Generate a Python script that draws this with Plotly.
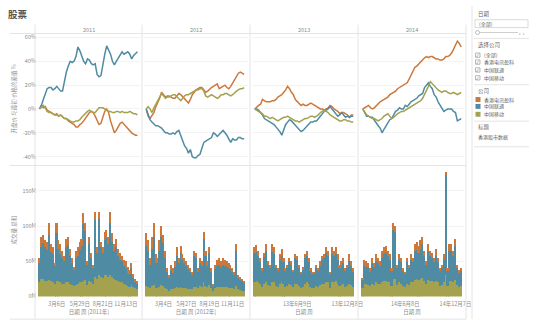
import plotly.graph_objects as go
import pandas as pd

years = ["2011", "2012", "2013", "2014"]
companies = ["香港电讯盈科", "中国联通", "中国移动"]
colors = {"香港电讯盈科": "#cd783b", "中国联通": "#4f8ba2", "中国移动": "#a4a14f"}
week_starts = {"2011": "2011-01-02", "2012": "2012-01-01", "2013": "2013-01-06", "2014": "2014-01-05"}

# % difference of opening price vs first value of the year (weekly)
pct = {
    "香港电讯盈科": {
        "2011": [0, 3, 1, 2, -1, -2, -3, -4, -5, -4, -6, -5, -7, -8, -8, -10, -11, -12, -13, -15,
                 -15, -13, -12, -10, -8, -5, -3, -2, -3, -6, -10, -13, -12, -6, -2, 0, -3, -10, -16, -20,
                 -18, -15, -12, -11, -13, -15, -17, -18, -20, -21, -22, -22],
        "2012": [0, -6, -8, -5, -3, 2, 5, 9, 14, 12, 10, 11, 11, 10, 9, 9, 11, 13, 12, 10,
                 8, 6, 5, 8, 12, 14, 16, 17, 18, 18, 16, 14, 15, 17, 18, 19, 20, 21, 17, 18,
                 19, 20, 18, 17, 19, 22, 25, 28, 30, 31, 30, 29],
        "2013": [0, 2, 3, 4, 8, 7, 6, 6, 6, 7, 7, 8, 10, 11, 12, 14, 16, 19, 17, 14,
                 12, 8, 6, 4, 3, 4, 3, 3, 4, 5, 4, 3, 2, 1, 0, 0, -1, 0, 1, 3,
                 2, 0, -1, -2, -4, -3, -3, -4, -5, -7, -5, -5],
        "2014": [0, 1, 2, 3, 1, 0, 1, 3, 4, 6, 7, 8, 9, 10, 12, 13, 14, 15, 17, 18,
                 19, 20, 21, 22, 25, 28, 32, 35, 36, 38, 40, 42, 43, 44, 43, 44, 44, 43, 42, 42,
                 41, 41, 42, 44, 44, 45, 47, 50, 53, 57, 55, 52],
    },
    "中国联通": {
        "2011": [0, 3, 8, 13, 17, 18, 18, 16, 17, 19, 17, 15, 15, 24, 31, 36, 40, 39, 40, 44,
                 52, 49, 45, 40, 38, 42, 41, 38, 37, 38, 29, 27, 28, 38, 46, 53, 50, 46, 40, 37,
                 40, 43, 45, 48, 46, 47, 48, 46, 42, 45, 47, 48],
        "2012": [0, -5, -9, -11, -13, -14, -14, -15, -16, -18, -20, -20, -21, -21, -20, -21, -19, -18, -23, -26,
                 -31, -33, -37, -34, -40, -41, -41, -39, -38, -33, -28, -27, -26, -25, -24, -20, -21, -23, -21, -20,
                 -18, -20, -22, -25, -28, -25, -26, -26, -24, -24, -25, -25],
        "2013": [0, 0, -1, -3, -5, -8, -9, -10, -11, -12, -13, -15, -17, -19, -22, -17, -13, -11, -9, -10,
                 -12, -14, -16, -18, -19, -18, -16, -15, -13, -11, -11, -10, -10, -8, -6, -4, -2, -1, 0, 2,
                 0, -2, -4, -6, -5, -3, -5, -7, -6, -7, -6, -6],
        "2014": [0, -3, -6, -6, -7, -7, -9, -12, -14, -16, -20, -17, -14, -12, -9, -8, -5, -2, -1, 1,
                 0, 0, 3, 2, 4, 6, 7, 8, 9, 11, 12, 13, 18, 20, 22, 19, 17, 12, 10, 6,
                 3, 0, -2, -1, 0, 0, 0, -2, -3, -10, -9, -8],
    },
    "中国移动": {
        "2011": [0, 2, 3, 1, -2, -3, -3, -4, -5, -5, -6, -5, -7, -8, -8, -9, -10, -11, -11, -10,
                 -10, -9, -7, -5, -4, -2, -1, -2, -3, -3, -1, 1, 1, 1, 0, -1, -2, -2, -3, -3,
                 -2, -2, -3, -2, -3, -3, -3, -2, -3, -4, -4, -5],
        "2012": [0, 2, 0, -3, 1, 4, 6, 10, 13, 11, 9, 10, 10, 11, 12, 12, 10, 8, 7, 9,
                 11, 12, 12, 13, 14, 15, 16, 16, 17, 17, 15, 11, 10, 11, 12, 11, 10, 9, 10, 12,
                 12, 13, 13, 12, 11, 12, 14, 15, 16, 17, 17, 18],
        "2013": [0, -1, -2, -3, -4, -6, -6, -7, -8, -7, -8, -9, -10, -9, -8, -7, -7, -6, -7, -8,
                 -9, -10, -10, -11, -10, -9, -8, -8, -7, -6, -6, -7, -6, -5, -3, -2, -1, -2, -3, -5,
                 -6, -7, -8, -9, -10, -10, -9, -9, -10, -10, -11, -11],
        "2014": [0, -2, -5, -6, -7, -8, -8, -9, -10, -9, -8, -6, -5, -4, -6, -8, -7, -5, -4, -3,
                 -2, -2, -1, 0, 1, 2, 3, 4, 5, 6, 7, 9, 12, 15, 19, 23, 21, 19, 17, 16,
                 15, 14, 15, 15, 14, 13, 13, 14, 13, 12, 13, 14],
    },
}

# weekly volume (millions)
vol = {
    "中国移动": {
        "2011": [20, 25, 25, 22, 22, 24, 22, 20, 18, 22, 22, 20, 18, 18, 20, 20, 18, 17, 15, 17,
                 18, 20, 20, 22, 24, 16, 22, 20, 18, 28, 25, 30, 28, 26, 30, 30, 28, 30, 28, 25,
                 24, 22, 20, 20, 18, 17, 15, 14, 16, 14, 12, 10],
        "2012": [15, 14, 12, 15, 16, 12, 12, 14, 16, 15, 12, 10, 8, 10, 10, 12, 14, 12, 14, 12,
                 12, 12, 10, 10, 10, 14, 14, 12, 15, 14, 20, 15, 14, 16, 12, 8, 12, 13, 14, 13,
                 14, 13, 13, 12, 12, 12, 10, 15, 10, 9, 8, 8],
        "2013": [20, 22, 20, 18, 14, 18, 20, 16, 15, 20, 20, 15, 14, 18, 20, 18, 14, 15, 18, 16,
                 13, 18, 18, 15, 12, 14, 18, 20, 18, 14, 12, 12, 15, 14, 16, 18, 18, 20, 20, 12,
                 20, 20, 22, 18, 15, 16, 18, 14, 15, 18, 16, 14],
        "2014": [12, 18, 18, 17, 15, 18, 17, 20, 18, 18, 20, 22, 22, 20, 20, 15, 25, 25, 16, 20,
                 18, 15, 14, 18, 16, 20, 20, 24, 25, 24, 25, 26, 22, 18, 24, 22, 22, 20, 22, 20,
                 15, 16, 20, 30, 15, 22, 22, 20, 24, 16, 14, 15],
    },
    "中国联通": {
        "2011": [27, 45, 51, 48, 44, 63, 41, 40, 25, 68, 46, 40, 37, 32, 50, 53, 40, 30, 23, 38,
                 40, 46, 52, 81, 69, 29, 53, 34, 23, 80, 37, 80, 42, 36, 50, 53, 47, 75, 50, 40,
                 46, 36, 32, 30, 26, 23, 19, 18, 24, 12, 9, 8],
        "2012": [57, 51, 33, 52, 69, 36, 35, 51, 69, 61, 43, 25, 18, 27, 24, 30, 44, 35, 48, 40,
                 35, 32, 29, 25, 21, 43, 40, 23, 32, 30, 62, 42, 30, 46, 23, 8, 27, 31, 31, 29,
                 31, 31, 29, 28, 27, 23, 21, 50, 16, 15, 14, 11],
        "2013": [42, 41, 37, 31, 22, 38, 45, 29, 25, 43, 40, 25, 22, 34, 38, 31, 22, 25, 31, 29,
                 22, 36, 34, 25, 20, 24, 36, 37, 31, 22, 20, 20, 25, 22, 28, 34, 36, 42, 37, 20,
                 40, 37, 38, 34, 25, 28, 29, 22, 25, 32, 28, 21],
        "2014": [11, 26, 24, 25, 20, 29, 25, 30, 29, 26, 35, 38, 40, 37, 32, 21, 70, 67, 24, 32,
                 31, 21, 18, 31, 24, 32, 29, 41, 41, 38, 43, 49, 35, 27, 41, 35, 32, 29, 36, 29,
                 21, 24, 32, 142, 21, 43, 43, 37, 48, 24, 20, 21],
    },
    "香港电讯盈科": {
        "2011": [8, 15, 12, 10, 12, 18, 12, 10, 5, 15, 12, 15, 10, 8, 12, 12, 10, 8, 4, 10,
                 12, 12, 10, 15, 12, 5, 10, 8, 4, 12, 8, 10, 8, 8, 12, 12, 10, 15, 12, 10,
                 12, 10, 10, 8, 8, 10, 8, 6, 8, 6, 4, 4],
        "2012": [18, 15, 10, 18, 20, 12, 8, 15, 15, 12, 10, 5, 4, 8, 6, 8, 12, 8, 10, 8,
                 8, 6, 6, 5, 4, 8, 8, 5, 8, 6, 10, 8, 6, 8, 5, 2, 6, 8, 10, 8,
                 10, 8, 8, 8, 6, 5, 4, 10, 4, 4, 3, 3],
        "2013": [8, 10, 8, 6, 4, 6, 10, 5, 5, 12, 10, 5, 4, 8, 10, 6, 4, 5, 6, 5,
                 3, 6, 6, 5, 3, 4, 6, 8, 6, 4, 3, 3, 5, 4, 6, 6, 6, 8, 8, 3,
                 10, 8, 10, 8, 5, 6, 8, 4, 5, 10, 6, 5],
        "2014": [3, 8, 8, 6, 5, 8, 6, 10, 8, 6, 10, 10, 10, 8, 8, 4, 10, 8, 5, 8,
                 6, 4, 3, 6, 5, 8, 6, 10, 12, 10, 12, 10, 8, 5, 10, 8, 8, 6, 10, 6,
                 4, 5, 8, 5, 4, 10, 10, 8, 10, 5, 4, 4],
    },
}

x_ranges = {
    "2011": ["2010-12-24", "2012-01-07"],
    "2012": ["2011-12-24", "2013-01-06"],
    "2013": ["2012-12-27", "2014-01-08"],
    "2014": ["2013-12-26", "2015-01-07"],
}
tick_vals = {
    "2011": ["2011-03-06", "2011-05-29", "2011-08-21", "2011-11-13"],
    "2012": ["2012-03-04", "2012-05-27", "2012-08-19", "2012-11-11"],
    "2013": ["2013-06-09", "2013-12-08"],
    "2014": ["2014-06-08", "2014-12-07"],
}
tick_text = {
    "2011": ["3月6日", "5月29日", "8月21日", "11月13日"],
    "2012": ["3月4日", "5月27日", "8月19日", "11月11日"],
    "2013": ["13年6月9日", "13年12月8日"],
    "2014": ["14年6月8日", "14年12月7日"],
}
x_titles = {"2011": "日期 周 [2011年]", "2012": "日期 周 [2012年]", "2013": "日期 周", "2014": "日期 周"}
pct_ticks = [-40, -20, 0, 20, 40, 60]
pct_tick_text = ["-40%", "-20%", "0%", "20%", "40%", "60%"]
vol_ticks = [0, 50, 100, 150]
vol_tick_text = ["0M", "50M", "100M", "150M"]

W, H = 534, 334
FONT = "Noto Sans CJK SC, Noto Sans, sans-serif"
GRAY = "#8c8c8c"
LINE = "#e4e4e4"


def px(x):
    return x / W


def py(y):
    return 1 - y / H


fig = go.Figure()
layout = {}
col_left = [35, 142, 250, 358]
col_w = 108
stack_order = ["中国移动", "中国联通", "香港电讯盈科"]

for i, yr in enumerate(years):
    dates = pd.date_range(week_starts[yr], periods=52, freq="7D")
    top, bot = i + 1, i + 5
    for c in companies:
        fig.add_trace(go.Scatter(
            x=dates, y=pct[c][yr], mode="lines", name=c, showlegend=False,
            line=dict(color=colors[c], width=1.5), xaxis=f"x{top}", yaxis=f"y{top}"))
    for c in stack_order:
        fig.add_trace(go.Bar(
            x=dates, y=vol[c][yr], name=c, showlegend=False, marker_color=colors[c],
            marker_line_width=0, xaxis=f"x{bot}", yaxis=f"y{bot}"))
    dom = [px(col_left[i] + 2), px(col_left[i] + col_w - 2)]
    layout[f"xaxis{top}"] = dict(domain=dom, range=x_ranges[yr], type="date", showticklabels=False,
                                 showgrid=False, zeroline=False, anchor=f"y{top}")
    layout[f"xaxis{bot}"] = dict(domain=dom, range=x_ranges[yr], type="date", showgrid=False,
                                 tickvals=tick_vals[yr], ticktext=tick_text[yr], ticks="",
                                 tickangle=0, automargin=False, ticklabelstandoff=3,
                                 tickfont=dict(size=5.5, color=GRAY, family=FONT),
                                 title=dict(text=x_titles[yr], font=dict(size=5.5, color=GRAY, family=FONT), standoff=3),
                                 zeroline=False, anchor=f"y{bot}")
    layout[f"yaxis{top}"] = dict(domain=[py(167), py(34)], range=[-47.4, 62.5], tickvals=pct_ticks,
                                 ticktext=pct_tick_text, showticklabels=(i == 0), ticks="",
                                 tickfont=dict(size=5.5, color=GRAY, family=FONT),
                                 gridcolor="#f3f3f3", zeroline=False, anchor=f"x{top}")
    layout[f"yaxis{bot}"] = dict(domain=[py(300), py(167)], range=[0, 186], tickvals=vol_ticks,
                                 ticktext=vol_tick_text, showticklabels=(i == 0), ticks="",
                                 tickfont=dict(size=5.5, color=GRAY, family=FONT),
                                 gridcolor="#f3f3f3", zeroline=False, anchor=f"x{bot}")

shapes = []
for x in [35, 142, 250, 358, 466]:
    shapes.append(dict(type="line", xref="paper", yref="paper", x0=px(x), x1=px(x), y0=py(24), y1=py(323),
                       line=dict(color=LINE, width=1)))
for y in [33, 167, 323]:
    shapes.append(dict(type="line", xref="paper", yref="paper", x0=px(10), x1=px(466), y0=py(y), y1=py(y),
                       line=dict(color=LINE, width=1)))
# right panel
shapes.append(dict(type="line", xref="paper", yref="paper", x0=px(472), x1=px(472), y0=py(5), y1=py(323),
                   line=dict(color=LINE, width=1)))
for y in [38, 85, 122, 148]:
    shapes.append(dict(type="line", xref="paper", yref="paper", x0=px(474), x1=px(529), y0=py(y), y1=py(y),
                       line=dict(color=LINE, width=1)))
shapes.append(dict(type="rect", xref="paper", yref="paper", x0=px(475), x1=px(528), y0=py(27), y1=py(19),
                   line=dict(color="#cfcfcf", width=0.8), fillcolor="white"))
shapes.append(dict(type="line", xref="paper", yref="paper", x0=px(478), x1=px(518), y0=py(32), y1=py(32),
                   line=dict(color="#cfcfcf", width=1)))
shapes.append(dict(type="circle", xref="paper", yref="paper", x0=px(475.5), x1=px(479.5), y0=py(34), y1=py(30),
                   line=dict(color="#aaaaaa", width=0.8), fillcolor="white"))
for k, y in enumerate([55, 62, 70, 78]):
    shapes.append(dict(type="rect", xref="paper", yref="paper", x0=px(475.5), x1=px(480), y0=py(y + 2.2), y1=py(y - 2.2),
                       line=dict(color="#999999", width=0.7), fillcolor="white"))
for c, y in zip(companies, [100, 107, 115]):
    shapes.append(dict(type="rect", xref="paper", yref="paper", x0=px(475.5), x1=px(480.5), y0=py(y + 2.5), y1=py(y - 2.5),
                       line=dict(width=0), fillcolor=colors[c]))

ann = []


def text(x, y, s, size=6, color=GRAY, xanchor="left", angle=0):
    ann.append(dict(x=px(x), y=py(y), xref="paper", yref="paper", text=s, showarrow=False,
                    xanchor=xanchor, yanchor="middle", textangle=angle,
                    font=dict(size=size, color=color, family=FONT)))


text(6, 13, "<b>股票</b>", size=9.5, color="#555555")
for i, yr in enumerate(years):
    text(col_left[i] + col_w / 2, 29, yr, size=5.5, xanchor="center")
text(14, 100, "开盘价 与最初 价格的差值 %", size=5.5, xanchor="center", angle=-90)
text(14, 233, "成交量 总和", size=5.5, xanchor="center", angle=-90)

DARK = "#666666"
text(476, 13, "日期", size=5.5, color=DARK)
text(477, 23, "(全部)", size=5, color=DARK)
text(527, 32, "‹  ›", size=5, color=DARK, xanchor="right")
text(476, 45, "选择公司", size=5.5, color=DARK)
for y in [55, 62, 70, 78]:
    text(477.8, y, "✓", size=4.5, color="#777777", xanchor="center")
for s, y in zip(["(全部)"] + companies, [55, 62, 70, 78]):
    text(482, y, s, size=5, color=DARK)
text(476, 91, "公司", size=5.5, color=DARK)
for c, y in zip(companies, [100, 107, 115]):
    text(482, y, c, size=5, color=DARK)
text(476, 128, "标题", size=5.5, color=DARK)
text(476, 138, "香港股市数据", size=5, color=DARK)

fig.update_layout(
    width=W, height=H, margin=dict(l=0, r=0, t=0, b=0), autosize=False,
    paper_bgcolor="white", plot_bgcolor="white", barmode="stack", bargap=0.2,
    shapes=shapes, annotations=ann, showlegend=False, font=dict(family=FONT),
    **layout)

fig.write_html("out.html")
